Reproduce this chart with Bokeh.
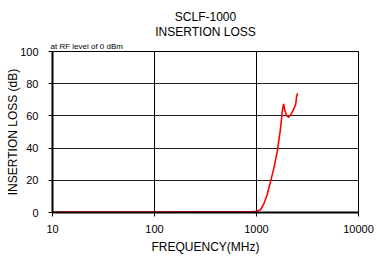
from bokeh.plotting import figure
from bokeh.models import FixedTicker, NumeralTickFormatter, Title, Range1d
from bokeh.embed import file_html
from bokeh.resources import INLINE

title_lines = ["SCLF-1000", "INSERTION LOSS"]
note_text = "at RF level of 0 dBm"
x_label = "FREQUENCY(MHz)"
y_label = "INSERTION LOSS (dB)"

x_ticks = [10, 100, 1000, 10000]
y_ticks = [0, 20, 40, 60, 80, 100]

freq_mhz = [10, 50, 100, 300, 600, 900, 1000, 1094, 1179, 1273, 1372, 1479, 1596,
            1719, 1786, 1841, 1897, 1968, 2073, 2189, 2323, 2428, 2466, 2524]
loss_db = [0.3, 0.3, 0.3, 0.4, 0.4, 0.5, 0.8, 1.7, 5.4, 11.0, 19.2, 27.4, 37.6,
           52.0, 62.3, 67.4, 63.3, 60.2, 59.2, 61.2, 64.3, 67.4, 71.5, 74.1]

FONT = "Liberation Sans"
W, H = 377, 256
ML, MR, MT, MB = 52, 19, 51, 42

p = figure(width=W, height=H, x_axis_type="log", output_backend="svg",
           toolbar_location=None, title_location=None,
           x_range=Range1d(10, 10000), y_range=Range1d(0, 100),
           min_border_left=ML, min_border_right=MR, min_border_top=MT, min_border_bottom=MB)
p.background_fill_color = "white"
p.border_fill_color = "white"
p.outline_line_color = "black"
p.outline_line_width = 1

p.line(freq_mhz, loss_db, line_color="#ff0000", line_width=1.6)

for ax in (p.xaxis[0], p.yaxis[0]):
    ax.axis_line_color = "black"
    ax.axis_line_width = 2
    ax.major_tick_line_color = "black"
    ax.major_tick_in = 0
    ax.major_tick_out = 4
    ax.minor_tick_line_color = None
    ax.major_label_text_font = FONT
    ax.major_label_text_font_size = "11px"
    ax.major_label_text_color = "black"
    ax.axis_label_text_font = FONT
    ax.axis_label_text_font_style = "normal"
    ax.axis_label_text_font_size = "12px"
    ax.axis_label_text_color = "black"

p.xaxis.ticker = FixedTicker(ticks=x_ticks)
p.xaxis.formatter = NumeralTickFormatter(format="0")
p.xaxis.major_label_standoff = 8
p.xaxis.axis_label = x_label
p.xaxis.axis_label_standoff = 4
p.yaxis.ticker = FixedTicker(ticks=y_ticks)
p.yaxis.major_label_standoff = 10
p.yaxis.axis_label = y_label
p.yaxis.axis_label_standoff = -3

p.xgrid.ticker = FixedTicker(ticks=x_ticks)
p.ygrid.ticker = FixedTicker(ticks=y_ticks)
p.xgrid.grid_line_color = "black"
p.ygrid.grid_line_color = "#222222"
p.xgrid.grid_line_width = 1
p.ygrid.grid_line_width = 1

# stacked above the plot: first added sits closest to the frame
p.add_layout(Title(text=note_text, align="left", offset=-2, standoff=1, text_font=FONT,
                   text_font_size="8px", text_font_style="normal", text_color="black"), "above")
p.add_layout(Title(text=title_lines[1], align="center", standoff=1, text_font=FONT,
                   text_font_size="12px", text_font_style="normal", text_color="black"), "above")
p.add_layout(Title(text=title_lines[0], align="center", standoff=-2, text_font=FONT,
                   text_font_size="12px", text_font_style="normal", text_color="black"), "above")

open("out.html", "w").write(file_html(p, INLINE))
